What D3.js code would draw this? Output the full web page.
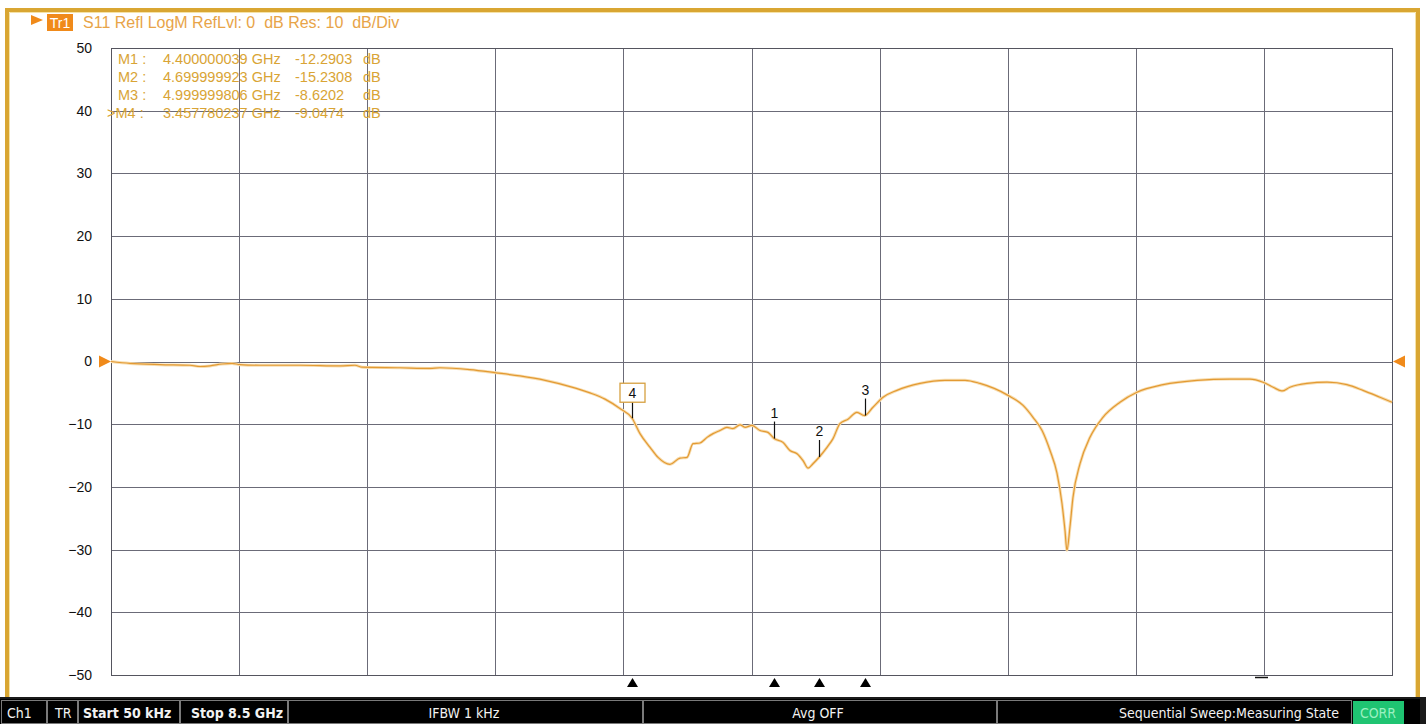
<!DOCTYPE html>
<html><head><meta charset="utf-8">
<script src="https://cdn.jsdelivr.net/npm/d3@7"></script>
<style>html,body{margin:0;padding:0;background:#fff;overflow:hidden}</style>
</head><body><svg id="c" width="1426" height="724"></svg>
<script>
// ---- data ----
const freqGHz = [0.00005,0.126,0.325,0.524,0.591,0.657,0.737,0.803,0.856,0.989,1.254,1.520,1.619,1.666,1.918,2.117,2.183,2.382,2.555,2.714,2.880,3.046,3.178,3.278,3.377,3.457780237,3.510,3.577,3.630,3.709,3.776,3.822,3.862,3.908,3.955,3.995,4.041,4.087,4.127,4.174,4.207,4.253,4.306,4.359,4.400000039,4.459,4.505,4.552,4.592,4.625,4.658,4.699999923,4.751,4.791,4.837,4.890,4.950,4.999999806,5.056,5.123,5.215,5.368,5.534,5.667,5.766,5.952,6.052,6.118,6.178,6.231,6.277,6.310,6.330,6.343,6.363,6.383,6.430,6.496,6.582,6.695,6.808,6.981,7.206,7.425,7.558,7.644,7.711,7.770,7.823,7.936,8.069,8.201,8.307,8.420,8.500];
const s11dB = [0,-0.3,-0.5,-0.6,-0.8,-0.7,-0.4,-0.3,-0.5,-0.6,-0.6,-0.7,-0.6,-0.9,-1.0,-1.1,-1.0,-1.3,-1.8,-2.3,-3.0,-4.0,-5.0,-6.0,-7.5,-9.0474,-11.5,-13.7,-15.3,-16.4,-15.4,-15.3,-13.1,-13.0,-12.1,-11.5,-11.0,-10.5,-10.7,-10.1,-10.5,-10.2,-11.0,-11.3,-12.2903,-12.9,-14.2,-14.7,-15.8,-17.0,-16.3,-15.2308,-13.7,-12.3,-9.9,-9.2,-8.1,-8.6202,-7.3,-5.7,-4.6,-3.5,-3.0,-3.0,-3.5,-5.4,-7.0,-8.9,-11.0,-14.2,-17.8,-22.6,-26.9,-30.1,-26.4,-21.7,-16.3,-12.1,-8.9,-6.5,-4.9,-3.7,-3.0,-2.8,-2.8,-3.3,-4.1,-4.7,-4.1,-3.5,-3.3,-3.7,-4.6,-5.7,-6.5];
const yTickValues = [50,40,30,20,10,0,-10,-20,-30,-40,-50];
const xStart = 0.00005, xStop = 8.5, xDivisions = 10;
const markerIds = ["1","2","3","4"];
const markerFreqs = [4.400000039,4.699999923,4.999999806,3.457780237];
const markerVals = [-12.2903,-15.2308,-8.6202,-9.0474];
const markerFreqLabels = ["4.400000039","4.699999923","4.999999806","3.457780237"];
const markerValLabels = ["-12.2903","-15.2308","-8.6202","-9.0474"];
const titleText = "S11 Refl LogM RefLvl: 0  dB Res: 10  dB/Div";
const statusLabels = ["Ch1","TR","Start 50 kHz","Stop 8.5 GHz","IFBW 1 kHz","Avg OFF","Sequential Sweep:Measuring State","CORR"];

// ---- layout ----
const svg = d3.select("#c");
const L = 111, R = 1392, T = 48, B = 675;
const x = d3.scaleLinear().domain([xStart, xStop]).range([L, R]);
const y = d3.scaleLinear().domain([-50, 50]).range([B, T]);
const orange = "#E39A33";

// frame
svg.append("rect").attr("x",0).attr("y",0).attr("width",1426).attr("height",724).attr("fill","#fff");
svg.append("path").attr("d","M7,697 L7,10 L1418,10 L1418,697")
  .attr("fill","none").attr("stroke","#D9A632").attr("stroke-width",4);
svg.append("path").attr("d","M9.5,697 L9.5,12.5 L1415.5,12.5 L1415.5,697")
  .attr("fill","none").attr("stroke","#F5E2A8").attr("stroke-width",1);

// grid
const g = svg.append("g");
const xGrid = d3.range(xDivisions + 1).map(i => xStart + i * (xStop - xStart) / xDivisions);
g.selectAll("line.vx").data(xGrid).join("line")
  .attr("x1", d => Math.round(x(d)) + 0.5).attr("x2", d => Math.round(x(d)) + 0.5)
  .attr("y1", T).attr("y2", B).attr("stroke", "#6b6b78").attr("stroke-width", 1);
g.selectAll("line.hy").data(yTickValues).join("line")
  .attr("x1", L).attr("x2", R)
  .attr("y1", d => Math.round(y(d)) + 0.5).attr("y2", d => Math.round(y(d)) + 0.5)
  .attr("stroke", "#6b6b78").attr("stroke-width", 1);
g.append("rect").attr("x", L + 0.5).attr("y", T + 0.5).attr("width", R - L).attr("height", B - T)
  .attr("fill", "none").attr("stroke", "#55555f").attr("stroke-width", 1);

// y axis labels
const yAxis = d3.axisLeft(y).tickValues(yTickValues).tickSize(0).tickPadding(19);
const ya = svg.append("g").attr("transform", `translate(${L},0)`).call(yAxis);
ya.select(".domain").remove();
ya.selectAll("text").attr("font-family", "Liberation Sans, Arial, sans-serif")
  .attr("font-size", 14).attr("fill", "#111");

// title
svg.append("path").attr("d","M31,15 L43,20 L31,25 Z").attr("fill","#F08A1A");
svg.append("rect").attr("x",47).attr("y",14).attr("width",26).attr("height",17).attr("fill","#F08A1A");
svg.append("text").attr("x",60).attr("y",27.5).attr("text-anchor","middle")
  .attr("font-family","Liberation Sans, Arial, sans-serif").attr("font-size",14).attr("fill","#fff").text("Tr1");
svg.append("text").attr("x",83).attr("y",28).attr("xml:space","preserve")
  .attr("font-family","Liberation Sans, Arial, sans-serif").attr("font-size",16)
  .attr("fill","#E8A448").text(titleText);

// marker table
const order = [0,1,2,3];
const mt = svg.append("g").attr("font-family","Liberation Sans, Arial, sans-serif")
  .attr("font-size",14.5).attr("fill","#D9A435");
order.forEach((i, r) => {
  const yy = 64 + r * 18;
  mt.append("text").attr("x", i === 3 ? 107 : 118).attr("y", yy)
    .text((i === 3 ? ">" : "") + "M" + markerIds[i] + " :");
  mt.append("text").attr("x", 163).attr("y", yy).text(markerFreqLabels[i] + " GHz");
  mt.append("text").attr("x", 295).attr("y", yy).text(markerValLabels[i]);
  mt.append("text").attr("x", 363).attr("y", yy).text("dB");
});

// trace
const pts = freqGHz.map((f, i) => [f, s11dB[i]]);
const line = d3.line().x(d => x(d[0])).y(d => y(d[1])).curve(d3.curveMonotoneX);
svg.append("path").datum(pts).attr("d", line).attr("fill","none")
  .attr("stroke","#F7DDB0").attr("stroke-width",3).attr("stroke-linejoin","round");
svg.append("path").datum(pts).attr("d", line).attr("fill","none")
  .attr("stroke", orange).attr("stroke-width",1.2).attr("stroke-linejoin","round");

// reference level triangles
svg.append("path").attr("d", `M${L-12},${y(0)-6} L${L},${y(0)} L${L-12},${y(0)+6} Z`).attr("fill","#F08A1A");
svg.append("path").attr("d", `M${R+13},${y(0)-6} L${R+1},${y(0)} L${R+13},${y(0)+6} Z`).attr("fill","#F08A1A");

// markers
markerIds.forEach((id, i) => {
  const mx = Math.round(x(markerFreqs[i])) + 0.5, my = y(markerVals[i]);
  svg.append("line").attr("x1", mx).attr("x2", mx).attr("y1", my - 17).attr("y2", my)
    .attr("stroke", "#111").attr("stroke-width", 1.2);
  if (id === "4") {
    svg.append("rect").attr("x", mx - 12.5).attr("y", my - 35).attr("width", 25).attr("height", 19)
      .attr("fill", "#fff").attr("stroke", "#D6A040").attr("stroke-width", 1.3);
  }
  svg.append("text").attr("x", mx).attr("y", my - 20.5).attr("text-anchor", "middle")
    .attr("font-family", "Liberation Sans, Arial, sans-serif").attr("font-size", 14)
    .attr("fill", "#111").text(id);
  svg.append("path").attr("d", `M${mx-5.5},${B+12} L${mx},${B+3} L${mx+5.5},${B+12} Z`).attr("fill", "#000");
});
// small stimulus indicator
svg.append("line").attr("x1",1255).attr("x2",1268).attr("y1",B+2.5).attr("y2",B+2.5).attr("stroke","#111").attr("stroke-width",1.5);

// status bar
svg.append("rect").attr("x",0).attr("y",697).attr("width",1426).attr("height",27).attr("fill","#1a1a1a");
svg.append("rect").attr("x",0).attr("y",699).attr("width",1420).attr("height",25).attr("fill","#000");
const cells = [[1,46],[47,77],[78,179],[180,287],[288,642],[643,996],[997,1351]];
cells.forEach(c => {
  svg.append("rect").attr("x", c[0] + 0.5).attr("y", 700.5).attr("width", c[1] - c[0]).attr("height", 23)
    .attr("fill", "#000").attr("stroke", "#7a7a7a").attr("stroke-width", 1);
});
svg.append("rect").attr("x",1353).attr("y",701).attr("width",51).attr("height",23).attr("fill","#1FC472");
const sb = svg.append("g").attr("fill","#f2f2f2").attr("font-size",14)
  .attr("font-family","DejaVu Sans Condensed, Liberation Sans Narrow, sans-serif").attr("font-stretch","condensed");
sb.append("text").attr("x",7).attr("y",718).text(statusLabels[0]);
sb.append("text").attr("x",55).attr("y",718).text(statusLabels[1]);
sb.append("text").attr("x",83).attr("y",718).attr("font-weight","bold").text(statusLabels[2]);
sb.append("text").attr("x",283).attr("y",718).attr("text-anchor","end").attr("font-weight","bold").text(statusLabels[3]);
sb.append("text").attr("x",464).attr("y",718).attr("text-anchor","middle").text(statusLabels[4]);
sb.append("text").attr("x",818).attr("y",718).attr("text-anchor","middle").text(statusLabels[5]);
sb.append("text").attr("x",1339).attr("y",718).attr("text-anchor","end").text(statusLabels[6]);
sb.append("text").attr("x",1378).attr("y",718).attr("text-anchor","middle").attr("fill","#9af0c0").text(statusLabels[7]);
</script></body></html>
